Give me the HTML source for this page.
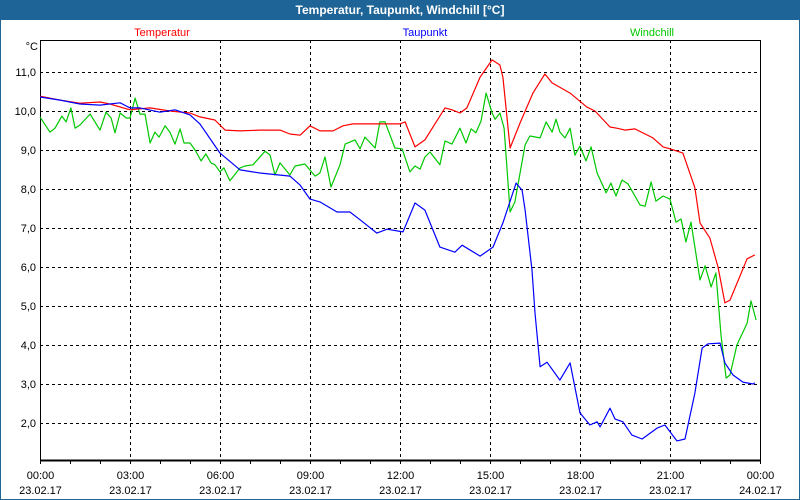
<!DOCTYPE html>
<html><head><meta charset="utf-8"><style>
html,body{margin:0;padding:0;background:#fff;}
body{width:800px;height:500px;overflow:hidden;font-family:"Liberation Sans",sans-serif;}
#frame{position:absolute;left:0;top:0;width:798px;height:499px;border:1px solid #1e6496;border-top:none;}
#title{position:absolute;left:0;top:0;width:800px;height:20px;background:#1e6496;color:#fff;font-weight:bold;font-size:12px;line-height:20px;text-align:center;}
svg{position:absolute;left:0;top:0;}
svg text{font-family:"Liberation Sans",sans-serif;font-size:11px;}
</style></head><body>
<div id="frame"></div>
<div id="title">Temperatur, Taupunkt, Windchill [°C]</div>
<svg id="chart" width="800" height="500"></svg>
<script>
const yTicks=[11,10,9,8,7,6,5,4,3,2];
const yTickLabels=["11,0","10,0","9,0","8,0","7,0","6,0","5,0","4,0","3,0","2,0"];
const xTicks=[0,3,6,9,12,15,18,21,24];
const xTimeLabels=["00:00","03:00","06:00","09:00","12:00","15:00","18:00","21:00","00:00"];
const xDateLabels=["23.02.17","23.02.17","23.02.17","23.02.17","23.02.17","23.02.17","23.02.17","23.02.17","24.02.17"];
const seriesNames=["Temperatur","Taupunkt","Windchill"];
const tempHours=[0,.67,1.33,2,2.33,3,3.67,4.33,5,5.33,5.83,6.17,6.67,7.33,8,8.33,8.67,9,9.33,9.77,10.1,10.43,12,12.17,12.5,12.83,13.5,13.73,14,14.23,14.67,15.07,15.33,15.43,15.67,16,16.43,16.83,17.07,17.67,18.23,18.5,19,19.23,19.5,19.83,20.43,20.77,21,21.43,21.83,22,22.33,22.6,22.83,23,23.57,23.83];
const tempValues=[10.38,10.28,10.2,10.23,10.18,10.03,10.08,10.0,9.95,9.85,9.77,9.51,9.49,9.51,9.51,9.41,9.38,9.62,9.49,9.49,9.62,9.67,9.67,9.72,9.08,9.26,10.08,10.03,9.95,10.08,10.87,11.31,11.18,10.87,9.05,9.69,10.46,10.95,10.72,10.46,10.1,10.0,9.59,9.56,9.51,9.54,9.31,9.08,9.03,8.92,8.03,7.13,6.74,6.0,5.08,5.15,6.21,6.31];
const dewHours=[0,.67,1.33,2,2.67,3,3.33,4,4.5,5,5.33,6,6.67,7.33,8.33,8.67,9,9.33,9.9,10.33,10.67,11.23,11.57,12.1,12.5,12.83,13.33,13.83,14.07,14.67,15.1,15.43,15.87,16.07,16.17,16.4,16.5,16.67,16.9,17.33,17.67,18,18.33,18.57,18.67,19,19.17,19.43,19.73,20.07,20.57,20.83,21.23,21.5,21.83,22.07,22.27,22.67,22.83,23.1,23.43,23.77,23.83];
const dewValues=[10.36,10.28,10.18,10.15,10.21,10.08,10.08,9.97,10.03,9.9,9.67,8.92,8.49,8.41,8.33,8.1,7.74,7.67,7.41,7.41,7.21,6.87,6.97,6.9,7.64,7.46,6.51,6.38,6.56,6.28,6.51,7.13,8.15,7.97,7.46,5.92,4.82,3.44,3.56,3.1,3.54,2.26,1.95,2.03,1.9,2.38,2.1,2.03,1.69,1.59,1.87,1.95,1.54,1.59,2.77,3.92,4.03,4.05,3.54,3.23,3.05,3.0,3.03];
const chillHours=[0,.33,.5,.73,.87,1.03,1.17,1.33,1.67,2,2.2,2.37,2.5,2.67,2.87,3,3.17,3.33,3.5,3.67,3.83,3.97,4.17,4.33,4.5,4.67,4.8,5,5.17,5.37,5.53,5.7,5.83,6,6.13,6.33,6.67,6.83,7.1,7.5,7.67,7.83,8,8.33,8.5,8.83,9.17,9.33,9.5,9.7,10,10.17,10.5,10.67,10.83,11.17,11.33,11.5,11.83,12.07,12.33,12.5,12.67,12.83,13,13.33,13.5,13.73,14,14.2,14.37,14.53,14.7,14.87,15.07,15.17,15.33,15.47,15.67,15.83,16.17,16.33,16.67,16.87,17.07,17.2,17.33,17.5,17.67,17.83,18,18.2,18.37,18.57,18.87,19.03,19.2,19.4,19.6,20,20.17,20.37,20.53,20.77,21,21.2,21.37,21.53,21.7,22,22.17,22.37,22.53,22.7,22.87,23,23.23,23.57,23.7,23.87];
const chillValues=[9.85,9.46,9.56,9.87,9.72,10.08,9.56,9.64,9.92,9.51,9.97,9.82,9.44,9.95,9.82,9.82,10.33,9.92,9.92,9.18,9.46,9.33,9.62,9.46,9.15,9.54,9.18,9.18,9.0,8.72,8.9,8.67,8.62,8.44,8.54,8.21,8.54,8.59,8.62,8.97,8.87,8.36,8.67,8.36,8.59,8.64,8.33,8.41,8.82,8.05,8.62,9.15,9.26,9.03,9.33,9.05,9.72,9.72,9.05,9.03,8.44,8.59,8.51,8.82,8.95,8.62,9.23,9.15,9.56,9.18,9.54,9.44,9.74,10.46,9.95,9.79,9.95,9.56,7.41,7.67,9.13,9.36,9.31,9.72,9.46,9.79,9.46,9.31,9.56,8.87,9.1,8.72,9.08,8.41,7.9,8.15,7.82,8.23,8.13,7.59,7.56,8.18,7.69,7.82,7.74,7.15,7.23,6.64,7.15,5.67,6.03,5.49,5.85,4.26,3.15,3.23,4.0,4.56,5.13,4.64];

const NS="http://www.w3.org/2000/svg";
const svg=document.getElementById('chart');
const L=40,R=760,T=40,B=460;
const xS=h=>L+h*(R-L)/24;
const yS=v=>72+(11-v)*39;
function mk(tag,attrs){const e=document.createElementNS(NS,tag);for(const k in attrs)e.setAttribute(k,attrs[k]);svg.appendChild(e);return e;}

// grid
yTicks.forEach((v,i)=>{
  const g=mk('line',{x1:L,x2:R,y1:yS(v)+.5,y2:yS(v)+.5,stroke:'#000','stroke-dasharray':'3,3'});
  
  
  const t=mk('text',{x:36,y:yS(v)+4,'text-anchor':'end',fill:'#000'});
  t.textContent=yTickLabels[i];
  
  
});
xTicks.forEach((h,i)=>{
  const x=Math.round(xS(h))+.5;
  if(i>0&&i<xTicks.length-1){
    const g=mk('line',{x1:x,x2:x,y1:T,y2:B,stroke:'#000','stroke-dasharray':'3,3'});
    
    
  }
  const t1=mk('text',{x:x,y:479,'text-anchor':'middle',fill:'#000'});
  t1.textContent=xTimeLabels[i];
  
  
  const t2=mk('text',{x:x,y:494,'text-anchor':'middle',fill:'#000'});
  t2.textContent=xDateLabels[i];
  
  
});
for(let h=0;h<=24;h++){
  const x=Math.round(xS(h))+.5;
  const m=mk('line',{x1:x,x2:x,y1:B,y2:B+4,stroke:'#000'});
  
  
}
// border
const bx=mk('rect',{x:L+.5,y:T+.5,width:R-L,height:B-T,fill:'none',stroke:'#000','stroke-width':1});


const ax=mk('line',{x1:L,x2:R+1,y1:B+.5,y2:B+.5,stroke:'#000','stroke-width':2});


const unit=mk('text',{x:38,y:50,'text-anchor':'end',fill:'#000'});
unit.textContent='°C';



const colors=['#ff0000','#0000ff','#00c800'];
const legendX=[162,425,652];
seriesNames.forEach((n,i)=>{
  const t=mk('text',{x:legendX[i],y:36,'text-anchor':'middle',fill:colors[i]});
  t.textContent=n;
  
  
});
function line(hs,vs,c,name){
  const d=hs.map((h,i)=>(i?'L':'M')+xS(h).toFixed(1)+','+yS(vs[i]).toFixed(1)).join('');
  const p=mk('path',{d:d,fill:'none',stroke:c,'stroke-width':1.2,'stroke-linejoin':'round'});
  
  
}
line(chillHours,chillValues,colors[2],'windchill-line');
line(tempHours,tempValues,colors[0],'temperature-line');
line(dewHours,dewValues,colors[1],'dewpoint-line');
</script>
</body></html>
